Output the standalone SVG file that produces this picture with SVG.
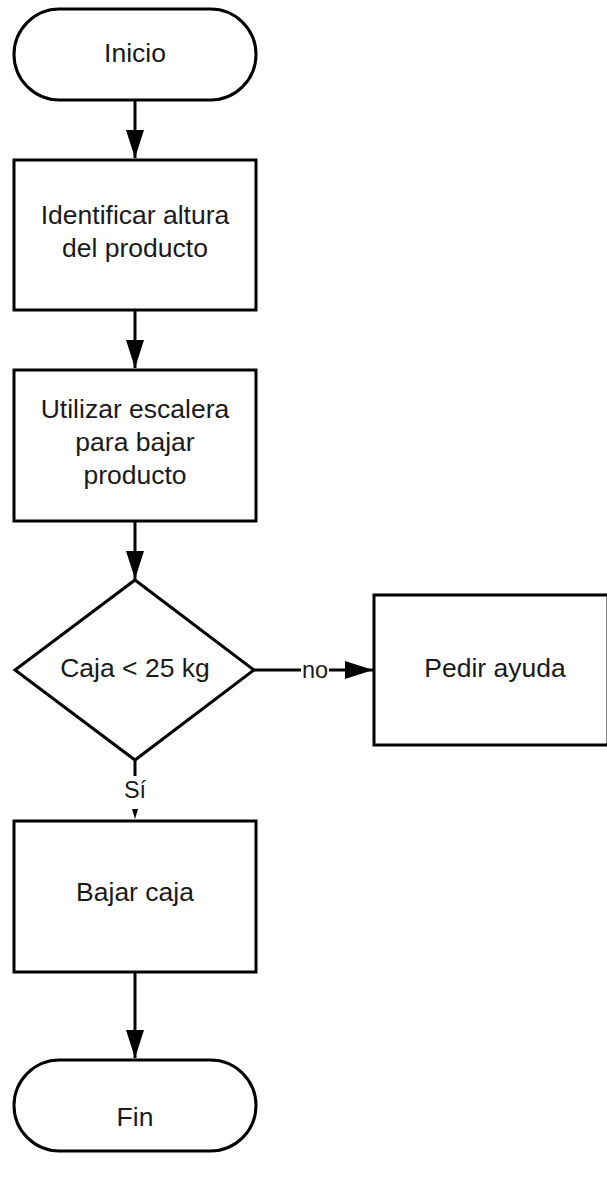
<svg xmlns="http://www.w3.org/2000/svg" width="607" height="1181" viewBox="0 0 607 1181">
<style>
.n{fill:#fff;stroke:#000;stroke-width:3}
.t{font-family:"Liberation Sans",Arial,sans-serif;font-size:26.5px;fill:#1a1a1a;text-anchor:middle}
.c{stroke:#000;stroke-width:3;fill:none}
.lbl{font-family:"Liberation Sans",Arial,sans-serif;font-size:23.5px;fill:#1a1a1a;text-anchor:middle}
</style>
<defs>
<marker id="ah" markerWidth="28" markerHeight="18" refX="28" refY="9" viewBox="0 0 28 18" markerUnits="userSpaceOnUse" orient="auto">
<path d="M0,0 L28,9 L0,18 Z" fill="#000"/>
</marker>
</defs>
<rect width="607" height="1181" fill="#fff"/>
<g id="connectors">
<line class="c" x1="135" y1="100" x2="135" y2="158" marker-end="url(#ah)"/>
<line class="c" x1="135" y1="310" x2="135" y2="368" marker-end="url(#ah)"/>
<line class="c" x1="135" y1="521" x2="135" y2="579" marker-end="url(#ah)"/>
<line class="c" x1="254" y1="670" x2="373" y2="670" marker-end="url(#ah)"/>
<rect x="301" y="658" width="28" height="22" fill="#fff"/>
<text class="lbl" x="315" y="678">no</text>
<line class="c" x1="135" y1="760" x2="135" y2="776"/>
<text class="lbl" x="135" y="798">Sí</text>
<path d="M132,809 L138,809 L135,819 Z" fill="#000"/>
<line class="c" x1="135" y1="972" x2="135" y2="1058" marker-end="url(#ah)"/>
</g>
<g id="inicio">
<rect class="n" x="14" y="9" width="242" height="91" rx="45.5" ry="45.5"/>
<text class="t" x="135" y="62">Inicio</text>
</g>
<g id="identificar">
<rect class="n" x="14" y="160" width="242" height="150"/>
<text class="t" x="135" y="224">Identificar altura</text>
<text class="t" x="135" y="257">del producto</text>
</g>
<g id="utilizar">
<rect class="n" x="14" y="370" width="242" height="151"/>
<text class="t" x="135" y="418">Utilizar escalera</text>
<text class="t" x="135" y="451">para bajar</text>
<text class="t" x="135" y="484">producto</text>
</g>
<g id="decision">
<polygon class="n" points="135,580 254,670 135,760 15,670"/>
<text class="t" x="135" y="677">Caja &lt; 25 kg</text>
</g>
<g id="pedir">
<rect class="n" x="374" y="595" width="234" height="150"/>
<text class="t" x="495" y="677">Pedir ayuda</text>
</g>
<g id="bajar">
<rect class="n" x="14" y="821" width="242" height="151"/>
<text class="t" x="135" y="901">Bajar caja</text>
</g>
<g id="fin">
<rect class="n" x="14" y="1060" width="242" height="91" rx="45.5" ry="45.5"/>
<text class="t" x="135" y="1126">Fin</text>
</g>
</svg>
